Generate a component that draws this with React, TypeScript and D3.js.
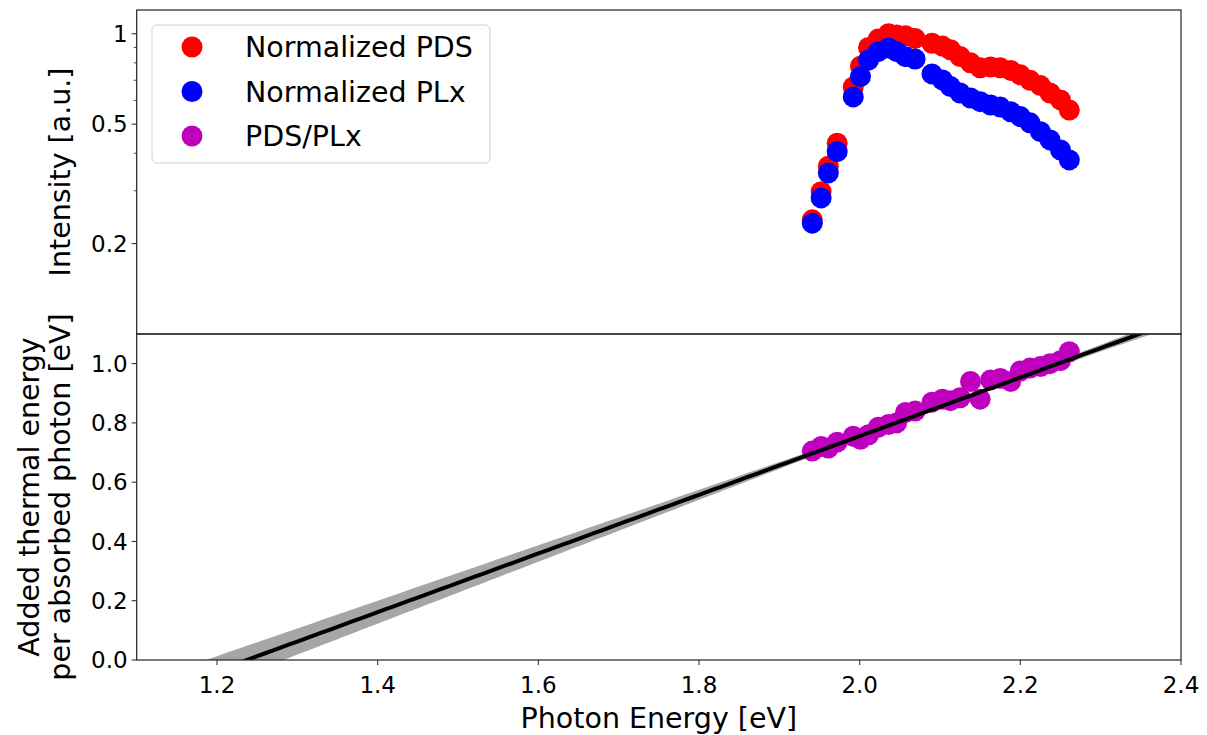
import React from "react";
import * as d3 from "d3";

const energies = [1.941, 1.952, 1.961, 1.972, 1.992, 2.001, 2.011, 2.023, 2.036, 2.046, 2.057, 2.069, 2.090, 2.103, 2.113, 2.125, 2.138, 2.150, 2.163, 2.175, 2.188, 2.200, 2.212, 2.225, 2.237, 2.250, 2.261];
const pds = [0.24, 0.298, 0.362, 0.432, 0.665, 0.78, 0.9, 0.96, 1.0, 0.99, 0.985, 0.965, 0.93, 0.91, 0.885, 0.84, 0.8, 0.77, 0.775, 0.77, 0.755, 0.73, 0.7, 0.672, 0.635, 0.602, 0.557];
const plx = [0.234, 0.284, 0.344, 0.405, 0.616, 0.72, 0.818, 0.872, 0.897, 0.872, 0.839, 0.824, 0.735, 0.702, 0.667, 0.635, 0.611, 0.594, 0.579, 0.57, 0.55, 0.53, 0.505, 0.472, 0.443, 0.41, 0.38];
const ratio = [0.705, 0.72, 0.715, 0.735, 0.755, 0.745, 0.76, 0.785, 0.795, 0.8, 0.835, 0.84, 0.87, 0.88, 0.875, 0.885, 0.94, 0.88, 0.945, 0.95, 0.94, 0.975, 0.985, 0.99, 1.0, 1.01, 1.04];

const fitSlope = 0.99;
const fitZero = 1.237;
const bandMean = 2.1;
const bandBase = 0.004;
const bandSlopeErr = 0.055;

const xTicks = [1.2, 1.4, 1.6, 1.8, 2.0, 2.2, 2.4];
const topTicks = [0.2, 0.5, 1];
const topMinor = [0.3, 0.4, 0.6, 0.7, 0.8, 0.9];
const botTicks = [0.0, 0.2, 0.4, 0.6, 0.8, 1.0];
const legendItems = [
  { label: "Normalized PDS", color: "#ff0000" },
  { label: "Normalized PLx", color: "#0000ff" },
  { label: "PDS/PLx", color: "#bf00bf" },
];

const W = 1207, H = 735;
const L = 136.7, R = 1181, T = 10, M = 334, B = 660;
const FONT = "DejaVu Sans, sans-serif";
const LABEL = 28.5;

export default function App() {
  const x = d3.scaleLinear().domain([1.1, 2.4]).range([L, R]);
  const yTop = d3.scaleLog().domain([0.1, 1.2]).range([M, T]);
  const yBot = d3.scaleLinear().domain([0, 1.1]).range([B, M]);

  const fx = d3.range(1.1, 2.4001, 0.01);
  const fit = (e: number) => fitSlope * (e - fitZero);
  const hw = (e: number) => Math.sqrt(bandBase ** 2 + (bandSlopeErr * (e - bandMean)) ** 2);
  const area = d3.area<number>().x((e) => x(e)).y0((e) => yBot(fit(e) - hw(e))).y1((e) => yBot(fit(e) + hw(e)));
  const line = d3.line<number>().x((e) => x(e)).y((e) => yBot(fit(e)));

  const fmt = (v: number) => (v === 1 ? "1" : String(v));
  const r = 10.5;

  return (
    <svg width={W} height={H} style={{ position: "absolute", left: 0, top: 0, background: "#fff" }} fontFamily={FONT}>
      <defs>
        <clipPath id="clipTop"><rect x={L} y={T} width={R - L} height={M - T} /></clipPath>
        <clipPath id="clipBot"><rect x={L} y={M} width={R - L} height={B - M} /></clipPath>
      </defs>
      <rect x={0} y={0} width={W} height={H} fill="#fff" />

      <g clipPath="url(#clipTop)">
        {energies.map((e, i) => <circle key={"r" + i} cx={x(e)} cy={yTop(pds[i])} r={r} fill="#ff0000" />)}
        {energies.map((e, i) => <circle key={"b" + i} cx={x(e)} cy={yTop(plx[i])} r={r} fill="#0000ff" />)}
      </g>

      <g clipPath="url(#clipBot)">
        <path d={area(fx) || ""} fill="#a6a6a6" />
        {energies.map((e, i) => <circle key={"p" + i} cx={x(e)} cy={yBot(ratio[i])} r={r} fill="#bf00bf" />)}
        <path d={line(fx) || ""} fill="none" stroke="#000" strokeWidth={4} />
      </g>

      <rect x={L} y={T} width={R - L} height={M - T} fill="none" stroke="#222" strokeWidth={1.2} />
      <rect x={L} y={M} width={R - L} height={B - M} fill="none" stroke="#222" strokeWidth={1.2} />

      {topTicks.map((t) => (
        <g key={"tt" + t}>
          <line x1={L - 5} x2={L} y1={yTop(t)} y2={yTop(t)} stroke="#222" strokeWidth={1} />
          <text x={L - 9} y={yTop(t)} dy="0.35em" textAnchor="end" fontSize={23}>{fmt(t)}</text>
        </g>
      ))}
      {topMinor.map((t) => (
        <line key={"tm" + t} x1={L - 3} x2={L} y1={yTop(t)} y2={yTop(t)} stroke="#222" strokeWidth={0.8} />
      ))}

      {botTicks.map((t) => (
        <g key={"bt" + t}>
          <line x1={L - 5} x2={L} y1={yBot(t)} y2={yBot(t)} stroke="#222" strokeWidth={1} />
          <text x={L - 9} y={yBot(t)} dy="0.35em" textAnchor="end" fontSize={23}>{t.toFixed(1)}</text>
        </g>
      ))}

      {xTicks.map((t) => (
        <g key={"xt" + t}>
          <line x1={x(t)} x2={x(t)} y1={B} y2={B + 5} stroke="#222" strokeWidth={1} />
          <text x={x(t)} y={B + 33} textAnchor="middle" fontSize={23}>{t.toFixed(1)}</text>
        </g>
      ))}

      <text x={(L + R) / 2} y={728} textAnchor="middle" fontSize={LABEL}>Photon Energy [eV]</text>
      <text transform={`translate(70,${(T + M) / 2}) rotate(-90)`} textAnchor="middle" fontSize={LABEL}>Intensity [a.u.]</text>
      <text transform={`translate(39,${(M + B) / 2}) rotate(-90)`} textAnchor="middle" fontSize={LABEL}>Added thermal energy</text>
      <text transform={`translate(70,${(M + B) / 2}) rotate(-90)`} textAnchor="middle" fontSize={LABEL}>per absorbed photon [eV]</text>

      <rect x={152} y={25} width={338} height={138} rx={5} fill="#fff" fillOpacity={0.8} stroke="#d0d0d0" strokeWidth={1} />
      {legendItems.map((it, i) => (
        <g key={it.label}>
          <circle cx={192} cy={47 + i * 44.5} r={r} fill={it.color} />
          <text x={245} y={47 + i * 44.5} dy="0.36em" fontSize={LABEL}>{it.label}</text>
        </g>
      ))}
    </svg>
  );
}
